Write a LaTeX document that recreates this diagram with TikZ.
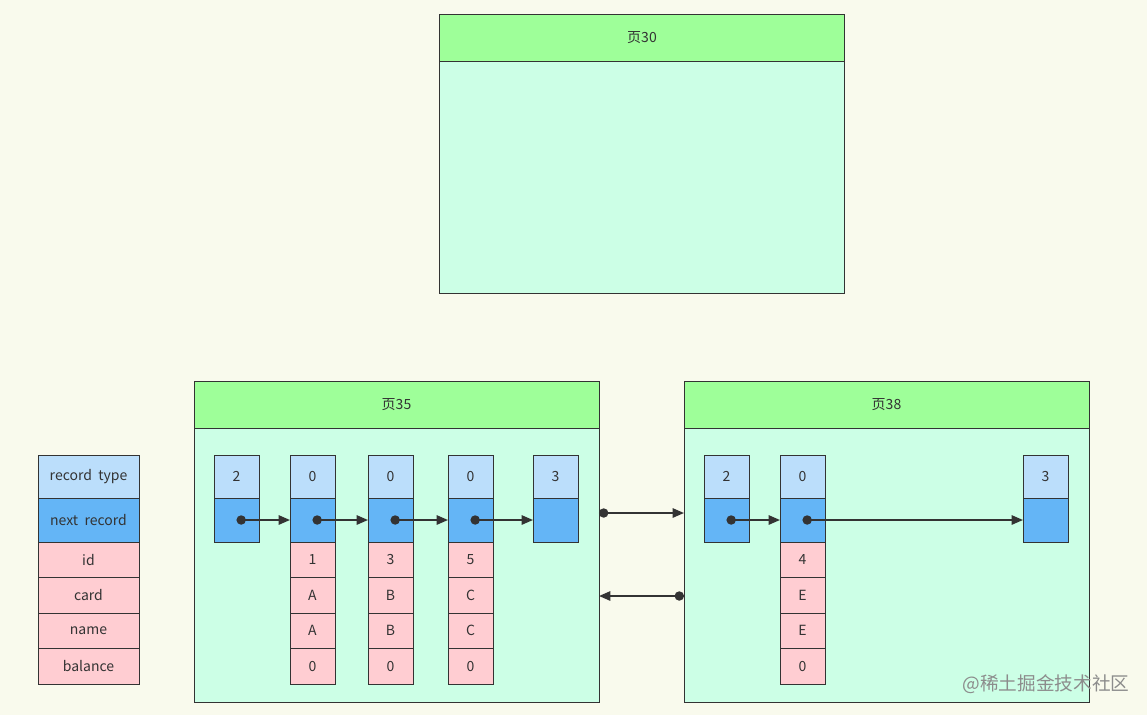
\documentclass[tikz,border=0pt]{standalone}
\usepackage{fontspec}
\setmainfont{Noto Sans CJK SC}
\usetikzlibrary{positioning,arrows.meta,calc}

\definecolor{bg}{HTML}{F9FAED}
\definecolor{ink}{HTML}{333333}
\definecolor{headgreen}{HTML}{9EFF99}
\definecolor{bodygreen}{HTML}{CCFFE6}
\definecolor{typeblue}{HTML}{BBDEFB}
\definecolor{nextblue}{HTML}{64B5F6}
\definecolor{datapink}{HTML}{FFCDD2}

\begin{document}
\begin{tikzpicture}[
    x=0.75pt, y=-0.75pt,
    font=\fontsize{10.5}{12}\selectfont,
    text=ink,
    head/.style={
        draw=ink,
        fill=headgreen,
        minimum width=303.75pt,
        minimum height=35.25pt,
        inner sep=0pt,
        outer sep=0pt
    },
    pagebody/.style={
        draw=ink,
        fill=bodygreen,
        minimum width=303.75pt,
        inner sep=0pt,
        outer sep=0pt
    },
    cell/.style={
        draw=ink,
        minimum width=33.75pt,
        inner sep=0pt,
        outer sep=0pt
    },
    wide/.style={minimum width=75.75pt},
    typecell/.style={cell, fill=typeblue, minimum height=32.25pt},
    nextcell/.style={cell, fill=nextblue, minimum height=33pt},
    datacell/.style={cell, fill=datapink, minimum height=26.6pt},
    ptr/.style={
        {Circle[length=7pt]}-{Triangle[length=8.5pt,width=7pt]},
        line width=1.3pt,
        draw=ink
    }
]
    \fill[bg] (0,0) rectangle (1147,715);
    \useasboundingbox (0,0) rectangle (1147,715);

    %% 页30
    \node[head] (h30) at (642,37.5) {页30};
    \node[pagebody, minimum height=174pt, below=0pt of h30] (b30) {};

    %% 页35 / 页38
    \node[head] (h35) at (396.5,404.5) {页35};
    \node[pagebody, minimum height=205.5pt, below=0pt of h35] (b35) {};
    \node[head] (h38) at (886.5,404.5) {页38};
    \node[pagebody, minimum height=205.5pt, below=0pt of h38] (b38) {};

    %% 图例
    \node[typecell, wide] (lgtype) at (88.5,476.5) {record\ \ type};
    \node[nextcell, wide, below=0pt of lgtype] (lgnext) {next\ \ record};
    \node[datacell, wide, below=0pt of lgnext] (lgid) {id};
    \node[datacell, wide, below=0pt of lgid] (lgcard) {card};
    \node[datacell, wide, below=0pt of lgcard] (lgname) {name};
    \node[datacell, wide, below=0pt of lgname] (lgbal) {balance};

    %% 页35 记录
    \node[typecell] (inf35) at (236.5,476.5) {2};
    \node[nextcell, below=0pt of inf35] (inf35n) {};

    \node[typecell] (r1) at (312.5,476.5) {0};
    \node[nextcell, below=0pt of r1] (r1n) {};
    \node[datacell, below=0pt of r1n] (r1id) {1};
    \node[datacell, below=0pt of r1id] (r1card) {A};
    \node[datacell, below=0pt of r1card] (r1name) {A};
    \node[datacell, below=0pt of r1name] (r1bal) {0};

    \node[typecell] (r3) at (390.5,476.5) {0};
    \node[nextcell, below=0pt of r3] (r3n) {};
    \node[datacell, below=0pt of r3n] (r3id) {3};
    \node[datacell, below=0pt of r3id] (r3card) {B};
    \node[datacell, below=0pt of r3card] (r3name) {B};
    \node[datacell, below=0pt of r3name] (r3bal) {0};

    \node[typecell] (r5) at (470.5,476.5) {0};
    \node[nextcell, below=0pt of r5] (r5n) {};
    \node[datacell, below=0pt of r5n] (r5id) {5};
    \node[datacell, below=0pt of r5id] (r5card) {C};
    \node[datacell, below=0pt of r5card] (r5name) {C};
    \node[datacell, below=0pt of r5name] (r5bal) {0};

    \node[typecell] (sup35) at (555.5,476.5) {3};
    \node[nextcell, below=0pt of sup35] (sup35n) {};

    %% 页38 记录
    \node[typecell] (inf38) at (726.5,476.5) {2};
    \node[nextcell, below=0pt of inf38] (inf38n) {};

    \node[typecell] (r4) at (802.5,476.5) {0};
    \node[nextcell, below=0pt of r4] (r4n) {};
    \node[datacell, below=0pt of r4n] (r4id) {4};
    \node[datacell, below=0pt of r4id] (r4card) {E};
    \node[datacell, below=0pt of r4card] (r4name) {E};
    \node[datacell, below=0pt of r4name] (r4bal) {0};

    \node[typecell] (sup38) at (1045.5,476.5) {3};
    \node[nextcell, below=0pt of sup38] (sup38n) {};

    %% 指针
    \draw[ptr] (inf35n.center) -- (r1n.west);
    \draw[ptr] (r1n.center) -- (r3n.west);
    \draw[ptr] (r3n.center) -- (r5n.west);
    \draw[ptr] (r5n.center) -- (sup35n.west);
    \draw[ptr] (inf38n.center) -- (r4n.west);
    \draw[ptr] (r4n.center) -- (sup38n.west);

    %% 页间链接
    \coordinate (lk1) at (0,513);
    \coordinate (lk2) at (0,596);
    \draw[ptr] (b35.east |- lk1) -- (b38.west |- lk1);
    \draw[ptr] (b38.west |- lk2) -- (b35.east |- lk2);

    %% 水印
    \node[text=black!45, font=\fontsize{14}{16}\selectfont] (mark) at (1046,684) {@稀土掘金技术社区};
\end{tikzpicture}
\end{document}
